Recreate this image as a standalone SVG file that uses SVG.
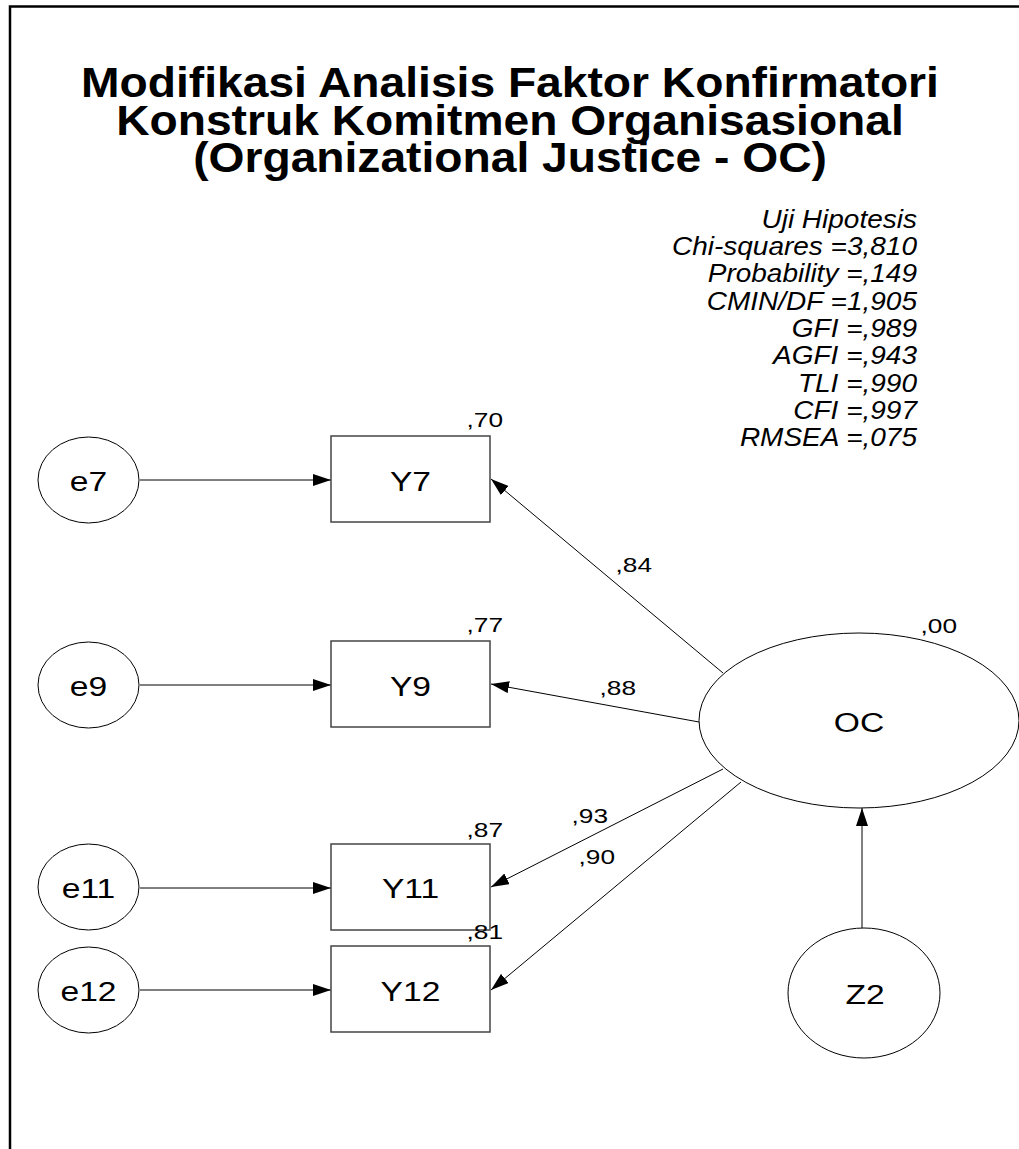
<svg xmlns="http://www.w3.org/2000/svg" width="1019" height="1149" viewBox="0 0 1019 1149">
<defs>
<marker id="ah" markerUnits="userSpaceOnUse" markerWidth="18" markerHeight="12" refX="18" refY="6" orient="auto"><path d="M0,0 L18,6 L0,12 z" fill="#000"/></marker>
</defs>
<style>
text{font-family:"Liberation Sans",Arial,sans-serif;fill:#000}
.title{font-size:42px;font-weight:bold;text-anchor:middle}
.stat{font-size:25px;font-style:italic;text-anchor:end}
.node{font-size:28px;text-anchor:middle}
.val{font-size:21px;text-anchor:end}
.shape{fill:#fff;stroke:#000;stroke-width:1}
.box{fill:#fff;stroke:#444;stroke-width:1.5}
#connectors line{stroke:#000;stroke-width:1;marker-end:url(#ah)}
</style>
<rect width="1019" height="1149" fill="#fff"/>
<path d="M10,1149 V6.5 H1019" fill="none" stroke="#000" stroke-width="2.5"/>
<g id="title">
<text class="title" transform="translate(510,97) scale(1.1,1)">Modifikasi Analisis Faktor Konfirmatori</text>
<text class="title" transform="translate(510,134.5) scale(1.1,1)">Konstruk Komitmen Organisasional</text>
<text class="title" transform="translate(510,172) scale(1.1,1)">(Organizational Justice - OC)</text>
</g>
<g id="stats">
<text class="stat" transform="translate(917,228) scale(1.12,1)">Uji Hipotesis</text>
<text class="stat" transform="translate(917,255) scale(1.12,1)">Chi-squares =3,810</text>
<text class="stat" transform="translate(917,282) scale(1.12,1)">Probability =,149</text>
<text class="stat" transform="translate(917,309.5) scale(1.12,1)">CMIN/DF =1,905</text>
<text class="stat" transform="translate(917,337) scale(1.12,1)">GFI =,989</text>
<text class="stat" transform="translate(917,364) scale(1.12,1)">AGFI =,943</text>
<text class="stat" transform="translate(917,391.5) scale(1.12,1)">TLI =,990</text>
<text class="stat" transform="translate(917,419) scale(1.12,1)">CFI =,997</text>
<text class="stat" transform="translate(917,446) scale(1.12,1)">RMSEA =,075</text>
</g>
<g id="connectors">
<line x1="140" y1="480" x2="331" y2="480"/>
<line x1="140" y1="685" x2="331" y2="685"/>
<line x1="140" y1="888" x2="331" y2="888"/>
<line x1="140" y1="990" x2="331" y2="990"/>
<line x1="723" y1="673" x2="491" y2="479"/>
<line x1="699" y1="722" x2="491" y2="684"/>
<line x1="723" y1="769" x2="491" y2="887"/>
<line x1="741" y1="782" x2="491" y2="990"/>
<line x1="862" y1="928" x2="862" y2="808"/>
</g>
<g id="path-labels">
<text class="val" transform="translate(652,572) scale(1.25,1)">,84</text>
<text class="val" transform="translate(636,695) scale(1.25,1)">,88</text>
<text class="val" transform="translate(608,823) scale(1.25,1)">,93</text>
<text class="val" transform="translate(615,864) scale(1.25,1)">,90</text>
</g>
<g id="e7"><ellipse class="shape" cx="88.5" cy="480" rx="50.5" ry="43"/><text class="node" transform="translate(88.5,491) scale(1.2,1)">e7</text></g>
<g id="e9"><ellipse class="shape" cx="88.5" cy="685" rx="50.5" ry="43"/><text class="node" transform="translate(88.5,696) scale(1.2,1)">e9</text></g>
<g id="e11"><ellipse class="shape" cx="88.5" cy="887" rx="50.5" ry="43"/><text class="node" transform="translate(88.5,898) scale(1.2,1)">e11</text></g>
<g id="e12"><ellipse class="shape" cx="88.5" cy="990" rx="50.5" ry="43"/><text class="node" transform="translate(88.5,1001) scale(1.2,1)">e12</text></g>
<g id="Y7"><rect class="box" x="331" y="436" width="159" height="86"/><text class="node" transform="translate(410.5,491) scale(1.2,1)">Y7</text><text class="val" transform="translate(503,427) scale(1.25,1)">,70</text></g>
<g id="Y9"><rect class="box" x="331" y="641" width="159" height="86"/><text class="node" transform="translate(410.5,696) scale(1.2,1)">Y9</text><text class="val" transform="translate(503,632) scale(1.25,1)">,77</text></g>
<g id="Y11"><rect class="box" x="331" y="844" width="159" height="86"/><text class="node" transform="translate(410.5,898) scale(1.2,1)">Y11</text><text class="val" transform="translate(503,837) scale(1.25,1)">,87</text></g>
<g id="Y12"><rect class="box" x="331" y="946" width="159" height="86"/><text class="node" transform="translate(410.5,1001) scale(1.2,1)">Y12</text><text class="val" transform="translate(503,939) scale(1.25,1)">,81</text></g>
<g id="OC"><ellipse class="shape" cx="859" cy="720.5" rx="160" ry="87.5"/><text class="node" transform="translate(859,732) scale(1.2,1)">OC</text><text class="val" transform="translate(957,633) scale(1.25,1)">,00</text></g>
<g id="Z2"><ellipse class="shape" cx="864" cy="993" rx="76" ry="65"/><text class="node" transform="translate(865,1004) scale(1.2,1)">Z2</text></g>
</svg>
